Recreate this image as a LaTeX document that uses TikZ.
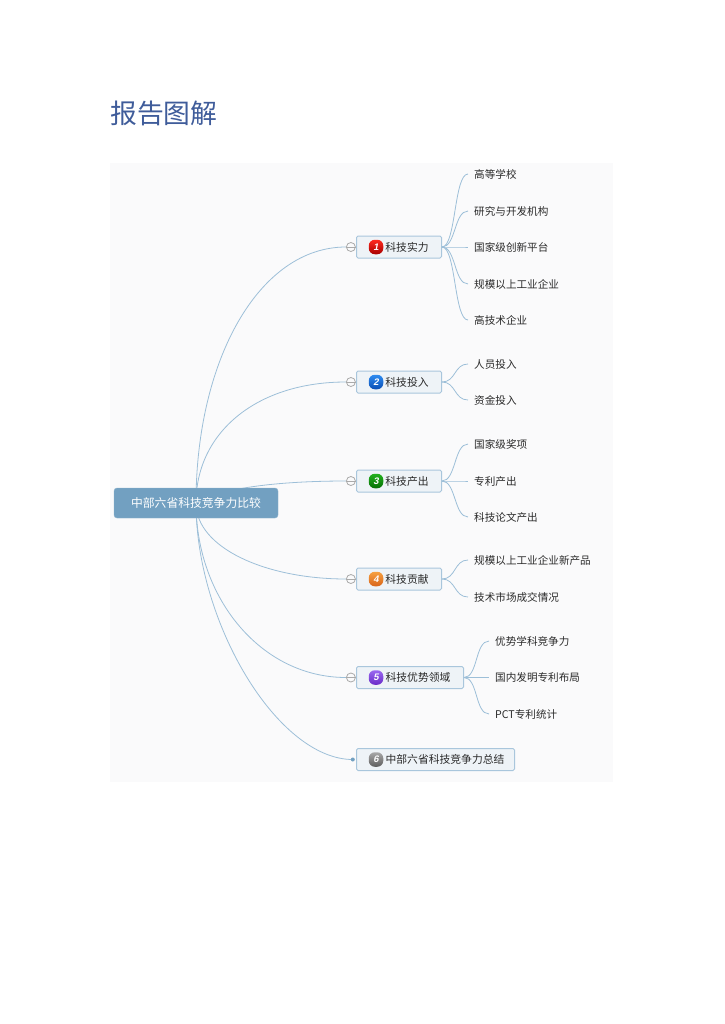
\documentclass[tikz,border=0pt]{standalone}
\usepackage{fontspec}
\setmainfont{Noto Sans CJK SC}
\newfontfamily\digitfont[FakeSlant=0.2]{Liberation Sans}
\usetikzlibrary{positioning,backgrounds}
\definecolor{rpTitle}{HTML}{3F5C9A}
\definecolor{rpPanel}{HTML}{FAFAFB}
\definecolor{rpRoot}{HTML}{72A0C1}
\definecolor{rpLine}{HTML}{9DBFD8}
\definecolor{rpBox}{HTML}{EEF3F7}
\definecolor{rpEdge}{HTML}{A9C6DC}
\definecolor{rpInk}{HTML}{2A2A2A}
\definecolor{rpFold}{HTML}{AAAAAA}
\begin{document}
\begin{tikzpicture}[x=1pt,y=-1pt,
  trunk/.style={draw=rpLine, line width=0.8pt},
  twig/.style={draw=rpLine, line width=0.8pt},
  rootbox/.style={fill=rpRoot, draw=rpRoot!80!white, rounded corners=3pt, minimum width=164pt, minimum height=30pt, inner sep=0pt, text=white, font=\fontsize{11.8}{12}\selectfont},
  branch/.style={draw=rpEdge, fill=rpBox, rounded corners=1.5pt, line width=1pt, minimum height=22pt, inner sep=0pt, anchor=west, text=rpInk, font=\fontsize{10.8}{12}\selectfont},
  leaf/.style={anchor=west, inner xsep=6pt, inner ysep=1pt, text=rpInk, font=\fontsize{10.6}{12}\selectfont},
  fold/.style={circle, draw=rpFold, fill=rpPanel, line width=0.8pt, minimum size=9pt, inner sep=0pt},
  ball/.style={rounded corners=6pt, minimum size=14.5pt, inner sep=0pt, text=white, font=\fontsize{9.5}{9.5}\digitfont\bfseries},
]
\useasboundingbox (0,0) rectangle (724,1024);
% ---- title ----
\node[anchor=west, inner sep=0pt, text=rpTitle, font=\fontsize{26.8}{28}\selectfont] (title) at (110,113){报告图解};
% ---- root ----
\node[rootbox] (root) at (196,503){中部六省科技竞争力比较};
% ---- branches ----
\foreach \n/\y/\w/\sh/\lab/\cola/\colb in {1/247/85/16/科技实力/FF2A1F/A80000, 2/382/85/16/科技投入/2E8BF0/0A4FB5, 3/481/85/16/科技产出/22B01E/067006, 4/579/85/16/科技贡献/F7A040/D8651A, 5/677.5/107/16/科技优势领域/9A68F0/6A2CC8, 6/759.5/158/19/中部六省科技竞争力总结/A8A8A8/5E5E5E}{
  \definecolor{ballTop}{HTML}{\cola}\definecolor{ballBot}{HTML}{\colb}
  \node[branch, minimum width=\w pt] (b\n) at (356,\y){\hspace{\sh pt}\lab};
  \node[ball, top color=ballTop, bottom color=ballBot] (ball\n) at (376,\y){\n};
}
% ---- fold marks ----
\foreach \n in {1,...,5}{
  \node[fold, left=0.2pt of b\n] (fold\n){};
  \draw[rpFold, line width=0.8pt] (fold\n.west) -- (fold\n.east);
}
\node[circle, fill=rpRoot, minimum size=4pt, inner sep=0pt, left=1pt of b6] (dot6){};
% ---- leaves ----
\foreach \n/\y/\lab/\p in {a/174/高等学校/1, b/211/研究与开发机构/1, c/247/国家级创新平台/1, d/284/规模以上工业企业/1, e/320/高技术企业/1, f/364/人员投入/2, g/400/资金投入/2, h/444/国家级奖项/3, i/481/专利产出/3, j/517/科技论文产出/3, k/560/规模以上工业企业新产品/4, l/597/技术市场成交情况/4}{
  \node[leaf] (leaf\n) at (468,\y){\lab};
  \draw[twig] (b\p.east) .. controls +(14,0) and +(-14,0) .. (leaf\n.west);
}
\foreach \n/\y/\lab in {m/641/优势学科竞争力, o/677.5/国内发明专利布局, p/714/PCT专利统计}{
  \node[leaf] (leaf\n) at (489,\y){\lab};
  \draw[twig] (b5.east) .. controls +(14,0) and +(-14,0) .. (leaf\n.west);
}
% ---- panel and trunks behind ----
\begin{pgfonlayer}{background}
  \node[fill=rpPanel, minimum width=503pt, minimum height=619pt, inner sep=0pt, anchor=north west] (panel) at (110,163){};
  \draw[trunk] (root.center) .. controls +(0,-143) and +(-87,0) .. (fold1.west);
  \draw[trunk] (root.center) .. controls +(0,-70) and +(-90,0) .. (fold2.west);
  \draw[trunk] (root.center) .. controls +(30,-18) and +(-50,0) .. (fold3.west);
  \draw[trunk] (root.center) .. controls +(0,45) and +(-80,0) .. (fold4.west);
  \draw[trunk] (root.center) .. controls +(0,95) and +(-85,0) .. (fold5.west);
  \draw[trunk] (root.center) .. controls +(0,120) and +(-75,0) .. (dot6.center);
\end{pgfonlayer}
\end{tikzpicture}
\end{document}
